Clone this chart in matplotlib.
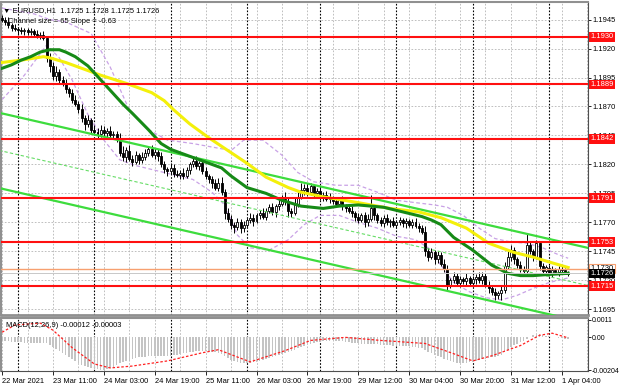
import numpy as np
import matplotlib.pyplot as plt
import matplotlib.transforms as mtransforms

plt.rcParams['font.family'] = ['Liberation Sans', 'DejaVu Sans']

BASE = 1.1700
PIP = 0.0001

# EURUSD H1 closes, pips above 1.1700 (bar 0 = 22 Mar 19:00, last = 1 Apr 06:00)
close_p = [
    245, 243, 240, 238, 237, 236, 235, 236, 234, 235, 233, 231, 232, 229,
    212, 205, 196, 200, 193, 190, 185, 182, 176, 172, 168,
    160, 155, 158, 150, 148, 146, 150, 147, 149, 145, 146, 143,
    130, 126, 132, 125, 122, 128, 124, 126, 130, 133, 128, 131, 127,
    120, 116, 114, 117, 112, 111, 113, 110, 115, 120, 123, 119, 121,
    114, 110, 107, 104, 100, 104, 96, 78, 73, 68, 66, 70, 65,
    68, 72, 74, 71, 76, 78, 75, 80, 83, 79, 84, 86, 90, 88, 80, 78,
    86, 92, 98, 100, 96, 101, 95, 97,
    92, 94, 90, 91, 88, 86, 89, 84, 82, 80, 78, 75, 72, 76, 70, 73,
    82, 76, 72, 69, 74, 70, 71, 68, 70, 72, 69, 71, 68, 70, 67, 65, 62,
    45, 40, 44, 38, 42, 34, 30, 16, 20, 24, 18, 21, 19, 22, 18, 21,
    23, 20, 24, 16, 13, 10, 7, 9, 12, 32, 40, 46, 38, 33, 30, 28,
    50, 45, 40, 52, 32, 28, 31, 26, 29, 27, 30, 29, 25, 26,
]
first_open = 246

wick_up = [
    3, 2, 4, 2, 3, 2, 3, 2, 2, 3, 2, 3, 2, 3, 2, 4, 3, 5, 2, 3, 4, 2, 3, 4,
    3, 4, 3, 5, 2, 4, 3, 4, 3, 2, 4, 3, 3, 4, 6, 3, 5, 3, 4, 2, 5, 3, 3, 4,
    3, 2, 4, 3, 2, 4, 3, 3, 2, 4, 3, 2, 3, 4, 2, 3, 4, 2, 3, 3, 4, 5, 3, 4,
    3, 2, 4, 3, 3, 2, 4, 3, 2, 3, 4, 2, 3, 4, 2, 3, 4, 6, 3, 2, 5, 4, 6, 3,
    4, 3, 2, 3, 4, 2, 3, 4, 2, 3, 3, 4, 2, 3, 4, 2, 3, 2, 3, 4, 12, 3, 2, 3,
    2, 3, 2, 4, 2, 3, 2, 3, 2, 3, 4, 2, 3, 5, 3, 4, 2, 3, 2, 4, 3, 2, 3, 2,
    3, 2, 4, 2, 3, 2, 4, 3, 2, 3, 2, 3, 2, 3, 4, 6, 4, 3, 2, 4, 2, 11, 3, 2,
    3, 2, 3, 2, 2, 3, 2, 2, 2, 2, 2,
]
wick_dn = [
    2, 3, 2, 3, 2, 3, 2, 3, 2, 2, 3, 2, 3, 2, 4, 5, 3, 4, 3, 2, 3, 4, 3, 2,
    4, 3, 5, 3, 4, 2, 3, 2, 4, 3, 2, 3, 4, 3, 3, 4, 2, 3, 2, 4, 3, 2, 3, 2,
    3, 4, 2, 3, 4, 2, 3, 2, 4, 3, 2, 3, 2, 3, 4, 2, 3, 3, 4, 2, 3, 2, 5, 3,
    4, 5, 3, 4, 3, 2, 3, 4, 2, 3, 2, 3, 2, 3, 4, 3, 2, 3, 5, 3, 2, 3, 2, 4,
    3, 2, 3, 2, 3, 4, 2, 3, 2, 3, 2, 3, 3, 2, 3, 4, 3, 2, 4, 3, 2, 4, 3, 2,
    3, 2, 4, 2, 3, 2, 3, 4, 2, 3, 2, 3, 2, 4, 3, 2, 4, 3, 2, 3, 4, 3, 2, 3,
    4, 2, 3, 2, 3, 4, 2, 3, 2, 4, 3, 4, 3, 6, 3, 2, 3, 4, 2, 3, 2, 3, 2, 3,
    2, 3, 2, 3, 2, 3, 2, 3, 2, 0, 1,
]

# MACD(12,26,9) main, 1e-5 units
macd_main = [
    -20, -22, -25, -27, -28, -30, -32, -33, -34, -34, -35, -36, -36, -37, -38, -48,
    -60, -75, -88, -100, -112, -125, -138, -150, -160, -170, -178, -185, -190, -195,
    -199, -202, -204, -200, -192, -182, -170, -160, -155, -148, -140, -132, -128, -125,
    -122, -120, -118, -117, -116, -116, -117, -117, -116, -114, -112, -108, -104, -100,
    -96, -92, -89, -86, -84, -83, -84, -87, -90, -94, -97, -103, -115, -128, -140,
    -150, -156, -160, -162, -162, -160, -156, -152, -147, -142, -136, -130, -124, -118,
    -112, -105, -98, -91, -84, -76, -68, -60, -53, -46, -40, -35, -31, -27, -24, -21,
    -20, -19, -20, -22, -24, -27, -30, -33, -36, -38, -40, -42, -44, -42, -42, -44,
    -46, -48, -50, -50, -51, -52, -52, -53, -54, -55, -57, -60, -64, -68, -78, -90,
    -100, -110, -118, -125, -132, -142, -150, -155, -158, -160, -160, -158, -156, -152,
    -148, -143, -138, -133, -128, -124, -120, -115, -108, -92, -78, -62, -50, -40,
    -32, -24, -8, 5, 14, 22, 18, 14, 10, 7, 4, 1, -3, -6, -9, -12,
]
signal_bar = [0, 4, 12, 16, 22, 29, 34, 41, 52, 63, 68, 73, 78, 84, 89, 97,
              108, 119, 133, 142, 148, 154, 163, 169, 173, 178]
signal_val = [32, 77, 89, 45, -64, -166, -191, -179, -147, -96, -77, -115, -153,
              -115, -83, -19, 0, -19, -38, -102, -147, -115, -51, 13, 26, -3]

# moving averages (green = 30, yellow = 50), sampled, pips above 1.1700
ma30_bar = [0, 3, 6, 9, 12, 15, 18, 20, 23, 27, 30, 34, 38, 41, 46, 50, 53, 56, 62,
            66, 69, 72, 77, 83, 88, 94, 101, 106, 112, 120, 126, 132, 135, 138, 142,
            148, 154, 159, 163, 167, 172, 178]
ma30_p = [203, 206, 210, 213, 217, 219, 219, 217, 213, 205, 196, 184, 172, 164, 150,
          138, 133, 130, 124, 120, 117, 110, 100, 95, 89, 84, 82, 84, 85, 83, 79, 75,
          72, 68, 57, 46, 33, 26, 24, 24, 25, 26]
ma50_bar = [0, 6, 13, 15, 20, 24, 31, 39, 47, 51, 54, 59, 65, 71, 77, 83, 90, 94, 101,
            112, 122, 131, 138, 146, 153, 161, 167, 173, 178]
ma50_p = [208, 210, 213, 212, 208, 204, 197, 190, 182, 175, 167, 155, 143, 132, 121,
          109, 100, 96, 92, 87, 82, 79, 74, 65, 52, 44, 40, 35, 31]

# bollinger bands, sampled
bb_up_bar = [0, 10, 15, 20, 28, 34, 40, 46, 52, 60, 68, 72, 76, 82, 88, 93, 98, 105,
             112, 118, 124, 130, 136, 140, 145, 150, 155, 160, 165, 170, 175, 178]
bb_up_p = [255, 250, 245, 243, 233, 204, 167, 150, 141, 138, 134, 132, 141, 141, 128,
           113, 105, 102, 102, 96, 89, 87, 85, 83, 76, 65, 56, 53, 52, 48, 42, 39]
bb_lo_bar = [0, 7, 14, 18, 22, 27, 32, 37, 42, 48, 54, 60, 66, 70, 74, 78, 84, 90, 95,
             100, 106, 112, 118, 124, 130, 134, 138, 142, 147, 152, 157, 162, 167, 172, 178]
bb_lo_p = [176, 197, 223, 212, 193, 163, 141, 124, 119, 115, 111, 107, 96, 85, 59, 48,
           46, 55, 68, 76, 76, 70, 65, 58, 55, 48, 33, 18, 10, 5, 3, 7, 13, 18, 22]

levels = [1.1930, 1.1889, 1.1842, 1.1791, 1.1753, 1.1715]
orange_level = 1.1730
last_price = 1.1726

channel_top0 = 1.1864
channel_size = 65
channel_slope = -0.63

price_ticks = [1.1945, 1.1920, 1.1895, 1.1870, 1.1845, 1.1820, 1.1795,
               1.1770, 1.1745, 1.1720, 1.1695]
time_bars = [0, 16, 32, 48, 64, 80, 96, 112, 128, 144, 160, 176]
time_labels = ['22 Mar 2021', '23 Mar 11:00', '24 Mar 03:00', '24 Mar 19:00',
               '25 Mar 11:00', '26 Mar 03:00', '26 Mar 19:00', '29 Mar 12:00',
               '30 Mar 04:00', '30 Mar 20:00', '31 Mar 12:00', '1 Apr 04:00']
day_bars = [5, 29, 53, 77, 100, 124, 148, 172]

# ---- layout (pixel based)
W, H = 620, 388
def rect(x0, y0, x1, y1):
    return [x0 / W, 1 - y1 / H, (x1 - x0) / W, (y1 - y0) / H]

fig = plt.figure(figsize=(6.2, 3.88), dpi=100)
ax = fig.add_axes(rect(1, 2, 588, 315))
axm = fig.add_axes(rect(1, 318, 588, 371))

x0 = (1 - 2.1) / 3.18
x1 = (588 - 2.1) / 3.18
FS = 5.4
grid_kw = dict(color='#b4b4b4', lw=0.6, ls=(0, (2, 2)), zorder=0)

# ---- main window
closes = BASE + np.array(close_p) * PIP
opens = BASE + np.array([first_open] + close_p[:-1]) * PIP
highs = np.maximum(opens, closes) + np.array(wick_up) * PIP
lows = np.minimum(opens, closes) - np.array(wick_dn) * PIP
bars = np.arange(len(closes))

for b in range(0, 190, 8):
    ax.axvline(b, **grid_kw)
    axm.axvline(b, **grid_kw)
for p in price_ticks:
    ax.axhline(p, **grid_kw)
for b in day_bars:
    ax.axvline(b, color='black', lw=0.8, ls=(0, (1.5, 1.5)), zorder=1)
    axm.axvline(b, color='black', lw=0.8, ls=(0, (1.5, 1.5)), zorder=1)

ax.vlines(bars, lows, highs, color='black', lw=0.7, zorder=3)
up = closes >= opens
ax.bar(bars[up], (closes - opens)[up] + 1e-6, bottom=opens[up], width=0.62,
       color='white', edgecolor='black', lw=0.6, zorder=3)
ax.bar(bars[~up], (closes - opens)[~up], bottom=opens[~up], width=0.62,
       color='black', edgecolor='black', lw=0.6, zorder=3)

# bollinger
ax.plot(bb_up_bar, BASE + np.array(bb_up_p) * PIP, color='#c9a2e6', lw=0.9,
        ls=(0, (3, 2)), zorder=2)
ax.plot(bb_lo_bar, BASE + np.array(bb_lo_p) * PIP, color='#c9a2e6', lw=0.9,
        ls=(0, (3, 2)), zorder=2)

# channel
cb = np.array([-2, 190])
top = channel_top0 + channel_slope * PIP * cb
ax.plot(cb, top, color='#3ddc3d', lw=1.6, zorder=4)
ax.plot(cb, top - channel_size * PIP, color='#3ddc3d', lw=1.6, zorder=4)
ax.plot(cb, top - channel_size / 2 * PIP, color='#66dd66', lw=0.8,
        ls=(0, (3, 2)), zorder=4)

# moving averages
ax.plot(ma50_bar, BASE + np.array(ma50_p) * PIP, color='#f4f00a', lw=2.2,
        zorder=4, solid_joinstyle='round')
ax.plot(ma30_bar, BASE + np.array(ma30_p) * PIP, color='#168a16', lw=2.2,
        zorder=4, solid_joinstyle='round')

# levels
for lv in levels:
    ax.axhline(lv, color='#ff1010', lw=1.5, zorder=5)
ax.axhline(orange_level, color='#f7a070', lw=1.0, zorder=5)
ax.axhline(last_price, color='#c8c8c8', lw=0.7, zorder=5)

ax.set_xlim(x0, x1)
ax.set_ylim(1.1690, 1.19602)
ax.yaxis.tick_right()
ax.set_yticks(price_ticks)
ax.set_yticklabels(['%.4f' % p for p in price_ticks])
ax.tick_params(axis='y', labelsize=FS, length=2, pad=1.5, width=0.6)
ax.set_xticks([])

tr = mtransforms.blended_transform_factory(ax.transAxes, ax.transData)
lab_kw = dict(transform=tr, ha='left', va='center', fontsize=FS, color='white',
              zorder=10, clip_on=False)
for lv in levels:
    ax.text(1.004, lv, '%.4f' % lv,
            bbox=dict(boxstyle='square,pad=0.15', fc='#ff1010', ec='none'), **lab_kw)
ax.text(1.004, orange_level + 0.00004, '%.4f' % orange_level, transform=tr,
        ha='left', va='center', fontsize=FS, color='black', zorder=9, clip_on=False,
        bbox=dict(boxstyle='square,pad=0.15', fc='white', ec='#f7a070', lw=0.8))
ax.text(1.004, last_price - 0.00002, '%.4f' % last_price,
        bbox=dict(boxstyle='square,pad=0.15', fc='black', ec='none'), **lab_kw)

for s in ['left', 'top']:
    ax.spines[s].set_color('#909090')
    ax.spines[s].set_linewidth(1.5)
ax.spines['bottom'].set_color('#909090')
ax.spines['bottom'].set_linewidth(2)
ax.spines['right'].set_color('#505050')
ax.spines['right'].set_linewidth(0.8)

ax.text(0.004, 0.985, '\u25bc EURUSD,H1  1.1725 1.1728 1.1725 1.1726',
        transform=ax.transAxes, fontsize=FS, va='top', ha='left', zorder=11)
ax.text(0.012, 0.95, 'Channel size = 65 Slope = -0.63',
        transform=ax.transAxes, fontsize=FS, va='top', ha='left', zorder=11)

# ---- MACD window
hist = np.array(macd_main) * 1e-5
axm.bar(np.arange(len(hist)), hist, width=0.5, color='#c4c4c4', zorder=2)
axm.plot(signal_bar, np.array(signal_val) * 1e-5, color='#ff2020', lw=0.9,
         ls=(0, (2, 1.5)), zorder=3)
axm.set_xlim(x0, x1)
axm.set_ylim(-0.0021, 0.00121)
axm.yaxis.tick_right()
axm.set_yticks([0.0011, 0.0, -0.00204])
axm.set_yticklabels(['0.0011', '0.00', '-0.00204'])
axm.tick_params(axis='y', labelsize=5.0, length=2, pad=1, width=0.6)
axm.set_xticks(time_bars)
axm.set_xticklabels(time_labels, ha='left')
axm.tick_params(axis='x', labelsize=FS, length=3, pad=2, width=0.6)
for s in ['left', 'top']:
    axm.spines[s].set_color('#909090')
    axm.spines[s].set_linewidth(1.5)
axm.spines['right'].set_color('#505050')
axm.spines['right'].set_linewidth(0.8)
axm.spines['bottom'].set_color('#505050')
axm.spines['bottom'].set_linewidth(0.8)
axm.text(0.008, 0.93, 'MACD(12,26,9) -0.00012 -0.00003', transform=axm.transAxes,
         fontsize=FS, va='top', ha='left', zorder=11)

fig.savefig('out.png', dpi=100)
